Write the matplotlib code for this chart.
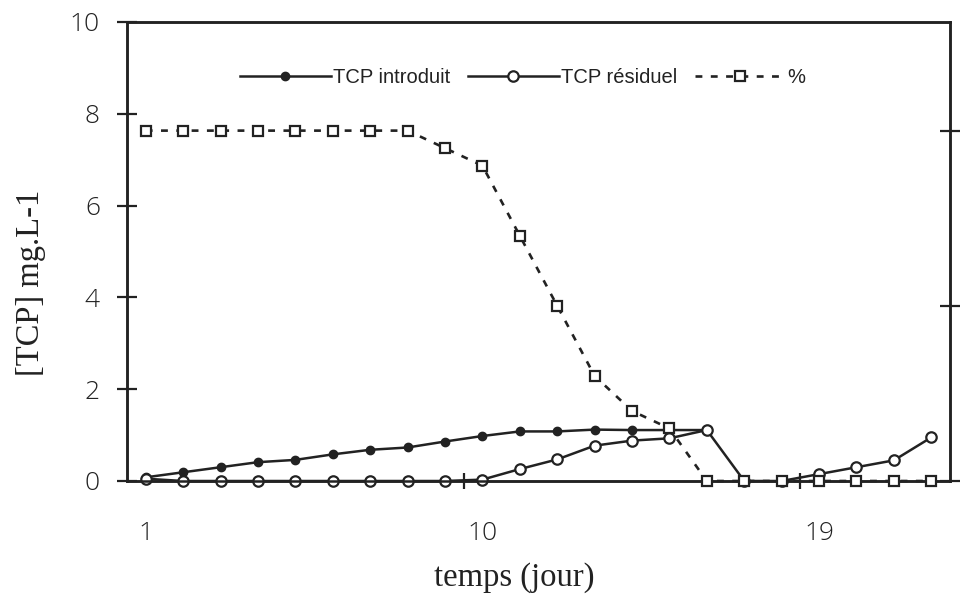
import numpy as np
import matplotlib
matplotlib.use("Agg")
import matplotlib.pyplot as plt

# TCP concentrations (mg/L) per day and removal percentage
days = np.arange(1, 23)
tcp_introduit = [0.08, 0.19, 0.30, 0.41, 0.46, 0.58, 0.68, 0.73, 0.86, 0.98,
                 1.08, 1.08, 1.12, 1.11, 1.11, 1.11]
tcp_residuel = [0.05, 0, 0, 0, 0, 0, 0, 0, 0, 0.03, 0.26, 0.47, 0.77, 0.88,
                0.93, 1.11, 0, 0, 0.15, 0.30, 0.45, 0.95]
pourcent = [100, 100, 100, 100, 100, 100, 100, 100, 95, 90, 70, 50, 30, 20,
            15, 0, 0, 0, 0, 0, 0, 0]

ink = "#222222"
tick_font = {"family": "Open Sans", "size": 19, "weight": "light"}
label_font = {"family": "Liberation Serif", "size": 23.5}

fig = plt.figure(figsize=(9.75, 6.01), dpi=100)
ax = fig.add_axes([127 / 975, 1 - 481 / 601, 823 / 975, 459 / 601])
ax2 = ax.twinx()

l1, = ax.plot(days[:len(tcp_introduit)], tcp_introduit, color=ink, lw=1.8,
              marker="o", ms=6, mfc=ink, mec=ink, clip_on=False, zorder=3)
l2, = ax.plot(days, tcp_residuel, color=ink, lw=1.8, marker="o", ms=7.5,
              mfc="white", mec=ink, mew=1.6, clip_on=False, zorder=4)
l3, = ax2.plot(days, pourcent, color=ink, lw=1.9, ls=(0, (2.6, 3.2)),
               marker="s", ms=6.5, mfc="white", mec=ink, mew=1.6,
               clip_on=False, zorder=5)

ax.set_xlim(0.5, 22.5)
ax.set_ylim(0, 10)
ax2.set_ylim(0, 131)

for a in (ax, ax2):
    for s in a.spines.values():
        s.set_color(ink)
        s.set_linewidth(1.8)

ax.set_yticks([0, 2, 4, 6, 8, 10])
ax.tick_params(axis="y", direction="inout", length=15, width=1.6,
               color=ink, pad=12, labelcolor=ink)
for t in ax.get_yticklabels():
    t.set_fontproperties(matplotlib.font_manager.FontProperties(**tick_font))

# labels sit on the days, tick marks between days
ax.set_xticks([1, 10, 19])
ax.set_xticks([9.5, 18.5], minor=True)
ax.tick_params(axis="x", which="major", length=0, pad=29, labelcolor=ink)
ax.tick_params(axis="x", which="minor", direction="inout", length=12,
               width=1.6, color=ink)
for t in ax.get_xticklabels():
    t.set_fontproperties(matplotlib.font_manager.FontProperties(**tick_font))

ax2.set_yticks([0, 50, 100])
ax2.set_yticklabels([])
ax2.tick_params(axis="y", direction="inout", length=15, width=1.6, color=ink)

ax.set_xlabel("temps (jour)", fontdict=label_font, color=ink, va="center")
ax.xaxis.set_label_coords(0.471, -0.211)
ax.set_ylabel("[TCP] mg.L-1", fontdict=label_font, color=ink, va="center")
ax.yaxis.set_label_coords(-0.117, 0.431)

ax2.legend([l1, l2, l3], ["TCP introduit", "TCP résiduel", "%"],
           loc="center", bbox_to_anchor=(0.481, 0.878), ncol=3,
           frameon=False, handlelength=4.5, handletextpad=0.1,
           columnspacing=0.9, numpoints=1, labelcolor=ink,
           prop={"family": "Liberation Sans", "size": 14.5})

fig.savefig("out.png", dpi=100, facecolor="white")
